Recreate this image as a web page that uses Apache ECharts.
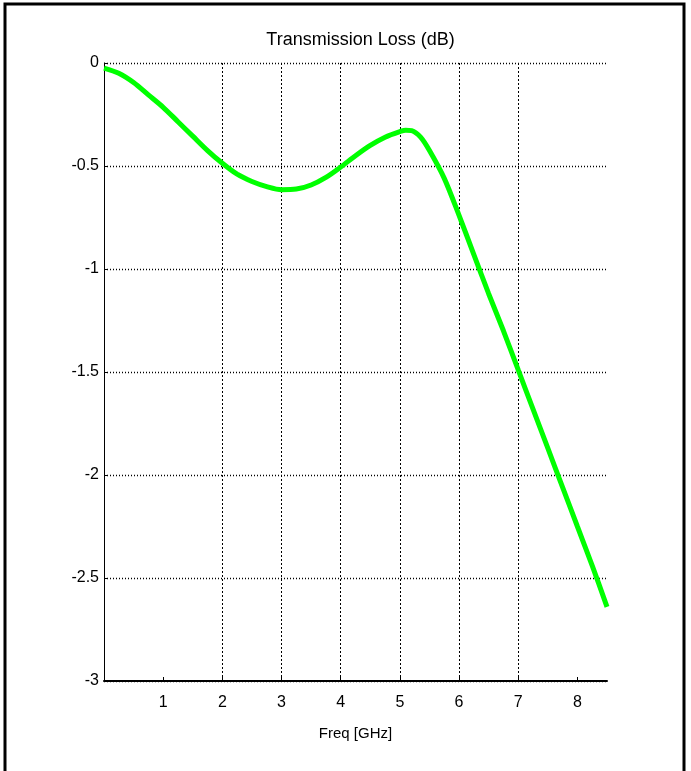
<!DOCTYPE html>
<html>
<head>
<meta charset="utf-8">
<script src="https://cdn.jsdelivr.net/npm/echarts@6/dist/echarts.min.js"></script>
<style>
html,body{margin:0;padding:0;background:#fff;}
#chart{width:691px;height:771px;}
</style>
</head>
<body>
<div id="chart"></div>
<script>
const freq = [0, 0.25, 0.5, 0.75, 1.0, 1.25, 1.5, 1.75, 2.0, 2.25, 2.5, 2.75, 3.0, 3.25, 3.5, 3.75, 4.0, 4.25, 4.5, 4.75, 5.0, 5.1, 5.2, 5.35, 5.5, 5.75, 6.0, 6.25, 6.5, 6.75, 7.0, 7.25, 7.5, 7.75, 8.0, 8.25, 8.5];
const loss = [-0.025, -0.05, -0.095, -0.155, -0.215, -0.285, -0.355, -0.425, -0.487, -0.54, -0.575, -0.60, -0.615, -0.612, -0.592, -0.555, -0.505, -0.45, -0.40, -0.36, -0.333, -0.326, -0.328, -0.36, -0.425, -0.56, -0.74, -0.93, -1.12, -1.30, -1.49, -1.68, -1.87, -2.06, -2.25, -2.44, -2.64];
const xTicks = [1, 2, 3, 4, 5, 6, 7, 8];
const titleText = 'Transmission Loss (dB)';
const xName = 'Freq [GHz]';

const font = "'Liberation Sans Narrow', 'Arial Narrow', 'Liberation Sans', Arial, sans-serif";
const chart = echarts.init(document.getElementById('chart'), null, {renderer: 'canvas'});
chart.setOption({
  animation: false,
  backgroundColor: '#fff',
  title: {
    text: titleText,
    left: 355.5,
    textAlign: 'center',
    top: 26,
    textStyle: {fontFamily: font, fontSize: 18, fontWeight: 'normal', color: '#000'}
  },
  graphic: [{
    type: 'rect',
    shape: {x: 5, y: 4, width: 679, height: 900},
    style: {fill: 'none', stroke: '#000', lineWidth: 3},
    silent: true
  }],
  grid: {left: 104, top: 63, right: 84, bottom: 90, containLabel: false},
  xAxis: {
    type: 'value',
    min: 0, max: 8.5, interval: 1,
    name: xName,
    nameLocation: 'middle',
    nameGap: 45,
    nameTextStyle: {fontFamily: font, fontSize: 15, color: '#000'},
    axisLine: {show: true, onZero: false, lineStyle: {color: '#000', width: 2}},
    axisTick: {show: true, inside: true, length: 4, customValues: xTicks, lineStyle: {color: '#000'}},
    axisLabel: {
      customValues: xTicks,
      margin: 14,
      fontFamily: font, fontSize: 16, color: '#000'
    },
    splitLine: {show: true, showMinLine: false, showMaxLine: false, lineStyle: {color: '#000', type: [2, 2], width: 1}}
  },
  yAxis: {
    type: 'value',
    min: -3, max: 0, interval: 0.5,
    axisLine: {show: true, onZero: false, lineStyle: {color: '#000', width: 1}},
    axisTick: {show: true, inside: true, length: 4, lineStyle: {color: '#000'}},
    axisLabel: {margin: 5, fontFamily: font, fontSize: 16, color: '#000'},
    splitLine: {show: true, lineStyle: {color: '#000', type: [1, 2], width: 1.3}}
  },
  series: [{
    type: 'line',
    data: freq.map((f, i) => [f, loss[i]]),
    showSymbol: false,
    smooth: 0.3,
    lineStyle: {color: '#00ff00', width: 5},
    z: 5
  }]
});
</script>
</body>
</html>
